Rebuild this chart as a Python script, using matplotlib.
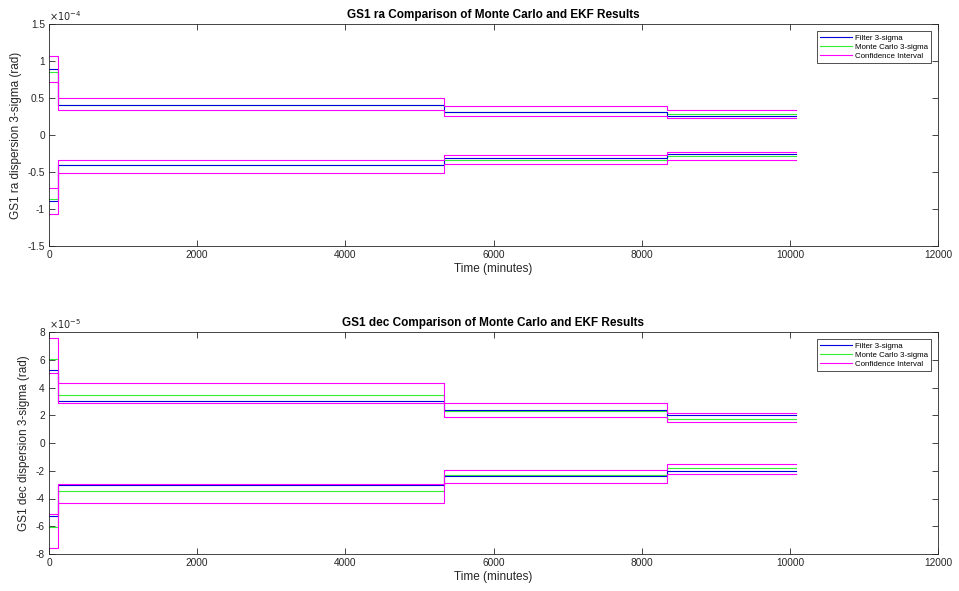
import matplotlib
matplotlib.use("Agg")
import matplotlib.pyplot as plt
import numpy as np

plt.rcParams['font.family'] = ['Liberation Sans', 'DejaVu Sans']

# segment boundaries (minutes)
t_edges = [0, 117, 5338, 8337, 10085]

# GS1 ra (units of 1e-4 rad), one value per segment
ra_filter = [0.887, 0.405, 0.307, 0.26]
ra_mc_pos = [0.85, 0.41, 0.31, 0.28]
ra_mc_neg = [-0.86, -0.41, -0.34, -0.28]
ra_ci_pos_hi = [1.067, 0.50, 0.39, 0.338]
ra_ci_pos_lo = [0.71, 0.336, 0.26, 0.225]
ra_ci_neg_hi = [-0.72, -0.342, -0.266, -0.234]
ra_ci_neg_lo = [-1.07, -0.51, -0.396, -0.342]

# GS1 dec (units of 1e-5 rad)
dec_filter_pos = [5.24, 3.05, 2.36, 2.0]
dec_filter_neg = [-5.26, -3.05, -2.38, -2.02]
dec_mc_pos = [6.03, 3.44, 2.28, 1.75]
dec_mc_neg = [-6.05, -3.48, -2.3, -1.82]
dec_ci_pos_hi = [7.55, 4.30, 2.86, 2.19]
dec_ci_pos_lo = [5.07, 2.88, 1.9, 1.49]
dec_ci_neg_hi = [-5.1, -2.93, -1.92, -1.49]
dec_ci_neg_lo = [-7.59, -4.32, -2.86, -2.21]

blue = '#0000dd'
green = '#33ee33'
mag = '#ff00ff'

fig = plt.figure(figsize=(9.59, 5.91), dpi=100)
W, H = 959, 591
ax1 = fig.add_axes([49 / W, 1 - 246 / H, 889 / W, 222 / H])
ax2 = fig.add_axes([49 / W, 1 - 554 / H, 889 / W, 222 / H])


def stairs(ax, vals, color, label=None):
    v = list(vals) + [vals[-1]]
    ax.step(t_edges, v, where='post', color=color, lw=0.8, label=label)


def style(ax, ylim, yticks, ylabel, title, exp):
    ax.set_xlim(0, 12000)
    ax.set_ylim(*ylim)
    ax.set_xticks(np.arange(0, 12001, 2000))
    ax.set_xticklabels([str(int(x)) for x in np.arange(0, 12001, 2000)])
    ax.set_yticks(yticks)
    ax.set_yticklabels(['%g' % y for y in yticks])
    ax.tick_params(direction='in', top=True, right=True, labelsize=7.3,
                   colors='#262626', length=4, width=0.6, pad=3)
    for s in ax.spines.values():
        s.set_color('#262626')
        s.set_linewidth(0.6)
    ax.set_xlabel('Time (minutes)', fontsize=8.5, color='#262626', labelpad=2)
    ax.set_ylabel(ylabel, fontsize=8.5, color='#262626', labelpad=4)
    ax.set_title(title, fontsize=8.5, fontweight='bold', pad=4)
    ax.text(0, 1.005, r'$\times10^{%d}$' % exp, transform=ax.transAxes,
            fontsize=7, color='#262626', ha='left', va='bottom')
    leg = ax.legend(loc='upper right', fontsize=5.7, frameon=True, fancybox=False,
                    edgecolor='black', borderpad=0.4, handlelength=4.0,
                    labelspacing=0.2, borderaxespad=0.9, handletextpad=0.4)
    leg.get_frame().set_linewidth(0.6)


# top plot
stairs(ax1, ra_mc_pos, green)
stairs(ax1, ra_mc_neg, green)
stairs(ax1, ra_filter, blue)
stairs(ax1, [-v for v in ra_filter], blue)
stairs(ax1, ra_ci_pos_hi, mag)
stairs(ax1, ra_ci_pos_lo, mag)
stairs(ax1, ra_ci_neg_hi, mag)
stairs(ax1, ra_ci_neg_lo, mag)
ax1.plot([], [], color=blue, lw=0.8, label='Filter 3-sigma')
ax1.plot([], [], color=green, lw=0.8, label='Monte Carlo 3-sigma')
ax1.plot([], [], color=mag, lw=0.8, label='Confidence Interval')
style(ax1, (-1.5, 1.5), [-1.5, -1, -0.5, 0, 0.5, 1, 1.5],
      'GS1 ra dispersion 3-sigma (rad)',
      'GS1 ra Comparison of Monte Carlo and EKF Results', -4)

# bottom plot
stairs(ax2, dec_mc_pos, green)
stairs(ax2, dec_mc_neg, green)
stairs(ax2, dec_filter_pos, blue)
stairs(ax2, dec_filter_neg, blue)
stairs(ax2, dec_ci_pos_hi, mag)
stairs(ax2, dec_ci_pos_lo, mag)
stairs(ax2, dec_ci_neg_hi, mag)
stairs(ax2, dec_ci_neg_lo, mag)
ax2.plot([], [], color=blue, lw=0.8, label='Filter 3-sigma')
ax2.plot([], [], color=green, lw=0.8, label='Monte Carlo 3-sigma')
ax2.plot([], [], color=mag, lw=0.8, label='Confidence Interval')
style(ax2, (-8, 8), [-8, -6, -4, -2, 0, 2, 4, 6, 8],
      'GS1 dec dispersion 3-sigma (rad)',
      'GS1 dec Comparison of Monte Carlo and EKF Results', -5)

fig.savefig('out.png', dpi=100)
